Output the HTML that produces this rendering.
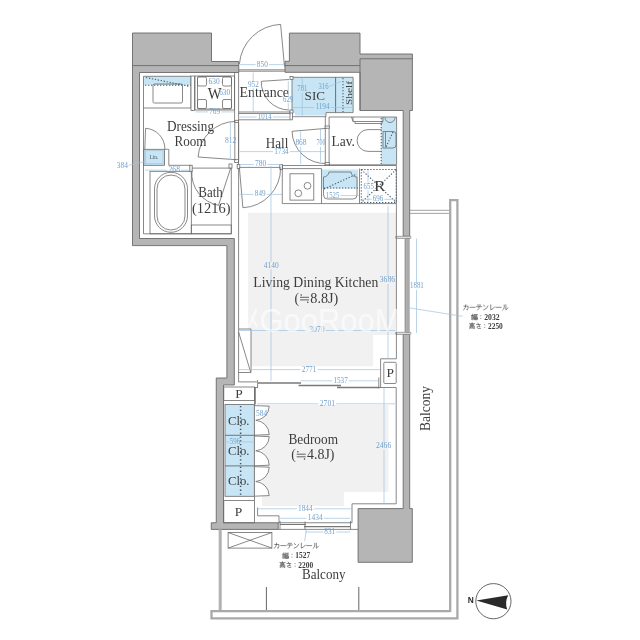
<!DOCTYPE html>
<html><head><meta charset="utf-8">
<style>
html,body{margin:0;padding:0;background:#fff;width:640px;height:640px;overflow:hidden}
svg{display:block;will-change:transform;filter:blur(0.3px)}
.w{fill:#b5b5b5;stroke:#6a6a6a;stroke-width:0.9}
.wl{stroke:#6a6a6a;stroke-width:0.9;fill:none}
.ln{stroke:#6b6b6b;stroke-width:0.8;fill:none}
.lt{stroke:#777;stroke-width:0.6;fill:none}
.lnf{stroke:#6b6b6b;stroke-width:0.8;fill:#fff}
.bl{fill:#c7e5f4}
.dm{stroke:#9fc2e0;stroke-width:0.7;fill:none}
.dt{fill:#6f9fcb;font-family:"Liberation Serif",serif;font-size:7.8px}
.lb{font-family:"Liberation Serif",serif}
.dot{stroke:#4d5d6a;stroke-width:1.1;stroke-dasharray:1.3 1.7;fill:none}
.rail{stroke:#aaa;stroke-width:2.4;fill:none}
.jp{fill:none;stroke:#444;stroke-width:0.55}
</style></head>
<body>
<svg width="640" height="640" viewBox="0 0 640 640">
<path d="M248.2 212.8H396.6V335H373V366.3H251V329H248.2Z" fill="#f1f1f1"/>
<path d="M262 405H388.5V492H343.8V506H262Z" fill="#f1f1f1"/>
<rect class="bl" x="143.5" y="76.3" width="47.5" height="8.8"/>
<path class="bl" d="M292 77.3H353.1V112.6H326V115.6H295V113H292Z"/>
<rect class="bl" x="381.2" y="117" width="15.4" height="47.8"/>
<rect class="bl" x="143.8" y="149.3" width="20.7" height="16"/>
<rect class="bl" x="225" y="404.4" width="29.4" height="91.9"/>
<path class="bl" d="M322 169.5H358V188.5H322Z"/>
<path class="w" d="M132.5 33H211.5V61.5H238.75V72.5H139.5V238.5H234.3V385H223.5V522.75H278.2V529.4H211.25V522.75H216.25V378H226.9V245.6H132.5Z"/>
<path class="wl" d="M132.5 65.6H238.75"/>
<path class="w" d="M289.4 33.1H360V54H412.4V110.5H409.7V236.3H403.2V110.5H360V72.3H285V61.25H289.4Z"/>
<path class="wl" d="M285 65.6H360M360 58.75H412.4M360 58.75V110.5"/>
<path class="w" d="M403.2 334.5H409.7V508.6H412.3V562.3H358.1V508.6H403.2Z"/>
<!-- window right LDK -->
<rect x="395.5" y="236.3" width="15.5" height="2.2" rx="1" fill="#ddd" stroke="#777" stroke-width="0.6"/>
<rect x="395.5" y="332.3" width="15.5" height="2.2" rx="1" fill="#ddd" stroke="#777" stroke-width="0.6"/>
<rect x="404.6" y="238.5" width="1.4" height="94" fill="#999"/>
<rect x="406.6" y="238.5" width="2.6" height="94" fill="#aaa" stroke="#777" stroke-width="0.4"/>
<line x1="396.4" y1="203.6" x2="396.4" y2="358.8" class="ln"/>
<path d="M409.8 210.3H449M409.8 213.4H449" stroke="#999" stroke-width="0.9" fill="none"/>
<path d="M450.2 612V200.2H457.4V618.4H211.5V611.1H450.2" stroke="#a9a9a9" stroke-width="2.3" fill="none"/>
<line x1="220.2" y1="529.4" x2="220.2" y2="610" stroke="#bbb" stroke-width="3.2"/>
<line x1="220.2" y1="529.4" x2="220.2" y2="610" stroke="#999" stroke-width="0.5" stroke-dasharray="0"/>
<line x1="266.4" y1="587" x2="266.4" y2="610" stroke="#666" stroke-width="1"/>
<line x1="358.8" y1="587" x2="358.8" y2="610" stroke="#666" stroke-width="1"/>

<path class="ln" d="M143.5 76.3V233.8H231.3V166"/>
<path class="ln" d="M143.5 76.3H191V108H143.5"/>
<rect class="ln" x="153" y="84" width="29.5" height="19" rx="1.5"/>
<path class="dot" d="M146 77.5L190 86.5M145 85.2H191"/>
<rect class="lnf" x="191" y="76" width="3.4" height="34.5"/>
<rect class="ln" x="195" y="76" width="39.4" height="34"/>
<rect class="ln" x="197.5" y="76.5" width="34" height="32.5" rx="1"/>
<rect class="ln" x="197.5" y="77" width="9" height="9" rx="1.5"/>
<rect class="ln" x="222.5" y="77" width="9" height="9" rx="1.5"/>
<rect class="ln" x="197.5" y="99.5" width="9" height="9" rx="1.5"/>
<rect class="ln" x="222.5" y="99.5" width="9" height="9" rx="1.5"/>
<path class="ln" d="M234.6 72.5V121.5M238.6 72.5V121.5"/>
<rect class="lnf" x="234.6" y="120.3" width="4" height="2.2"/>
<rect class="lnf" x="234.6" y="159.7" width="4" height="2.7"/>
<path class="ln" d="M234.8 122.5V159.7M238.6 122.5V159.7"/>
<!-- dressing door -->
<path class="ln" d="M235.9 159.7L198.1 157A38 38 0 0 1 235.5 121.4"/>
<!-- linen closet -->
<rect class="ln" x="143.8" y="149.3" width="20.7" height="16" stroke="#5f7480"/><rect x="145.3" y="150.8" width="17.7" height="13" fill="none" stroke="#9fb8c6" stroke-width="0.5"/>
<path class="ln" d="M144.8 149.3L145.6 128.3A20.5 20.5 0 0 1 164.9 148.9"/>
<!-- bath -->
<path class="ln" d="M164.5 149.3H168.8V165.3H191M192 168.1H231.3"/>
<rect class="ln" x="150" y="171.3" width="41.3" height="62.5"/>
<rect class="ln" x="154.5" y="172.3" width="33" height="60" rx="16.5"/>
<rect class="ln" x="157" y="175" width="28" height="55" rx="14"/>
<rect class="ln" x="191.3" y="225" width="40" height="8.8"/>
<rect class="lnf" x="189.8" y="165.3" width="2.4" height="6.4" fill="#ccc"/>
<rect class="lnf" x="229" y="164" width="3" height="4"/>
<!-- bath door -->
<path class="ln" d="M230.7 168L218.5 205.3M191.8 170.9A32.7 32.7 0 0 0 218.5 205.3"/>

<!-- entrance door -->
<path class="ln" d="M284.5 66.5L280.6 24.4A43 43 0 0 0 239.4 64"/>
<path class="ln" d="M238.8 69.8H285M238.8 71.2H285"/>
<!-- entrance floor lines -->
<path class="ln" d="M238.6 112H290M238.6 113.5H290M238.6 119.8H292.5"/>
<path class="ln" d="M290 110.5V119.8M292.5 112.6V119.8"/>
<path class="ln" d="M292.5 116.7H326V112.6H353.1V77.3H292"/>
<path class="ln" d="M292 77.3V113"/>
<rect class="lnf" x="290" y="76.5" width="3" height="3"/>
<rect class="lnf" x="290" y="110" width="3" height="3"/>
<path d="M335.6 77.3V112.6" stroke="#4f6878" stroke-width="0.9"/>
<path class="dot" d="M343 78V112"/>
<!-- SIC door -->
<path class="ln" d="M289 79.5L261.3 81.3A28 28 0 0 0 289 110"/>
<!-- hall -->
<path class="ln" d="M238.6 122.5V382M325.3 116.7V166M329.1 117V166"/>
<rect class="lnf" x="237.2" y="164.4" width="2.6" height="4.2" fill="#ccc"/>
<rect class="lnf" x="279.8" y="164.4" width="2.8" height="5" fill="#ccc"/>
<!-- lav door -->
<path class="ln" d="M326.9 128.3L292 131.3A33.1 33.1 0 0 0 326.9 163.5"/>
<rect class="lnf" x="325.1" y="126" width="4.2" height="2.2" fill="#ddd"/>
<rect class="lnf" x="325.1" y="162.6" width="4.2" height="2.2" fill="#ddd"/>
<!-- LDK door -->
<path class="ln" d="M239.4 167.9L242.9 207.7A39.3 39.3 0 0 0 280.6 168.3M239.4 167.4H280.6"/>
<!-- lav -->
<path class="ln" d="M329.1 117H396.6V164.8H329.1"/>
<path class="ln" d="M353 117V121.5H383V117M353 121.5L351.5 117M355 121.5V123.5H382V121.5"/>
<path class="dot" d="M381.2 118V164"/>
<path class="ln" d="M381.5 129.6H368A10.9 10.9 0 0 0 368 151.4H381.5"/>
<path class="ln" d="M383 131.5H393A3 3 0 0 1 396 134.5V145A3 3 0 0 1 393 148H383Z"/>
<path class="ln" d="M385.5 132V147.5"/>
<path class="dot" d="M393 132L386 147"/>
<path class="ln" d="M385 117.5A5 5 0 0 0 395 117.5"/>
<!-- kitchen counter -->
<path class="ln" d="M282.3 165.5V203.6H396.4V165.5H282.3M282.3 168.6H321.5"/>
<rect class="ln" x="290" y="173.8" width="23.8" height="26.3"/>
<circle class="ln" cx="307.5" cy="185.8" r="3.4"/>
<circle class="ln" cx="298.3" cy="193.3" r="3.4"/>
<path class="ln" d="M321.5 168.6V203.6M359.5 168.6V203.6"/>
<path class="ln" d="M323.5 177A6 6 0 0 0 329 172H351A6 6 0 0 0 357 177V195A4 4 0 0 1 353 199H327.5A4 4 0 0 1 323.5 195Z"/>
<path class="dot" d="M324 188H358M324 189L357 174"/>
<rect class="dot" x="361.3" y="169.5" width="35" height="33"/>
<path class="dot" d="M361.3 169.5L396.3 202.5M396.3 169.5L361.3 202.5"/>

<!-- fridge -->
<path class="ln" d="M238.6 329H251V372.5H238.6M238.6 332L250.6 372"/>
<!-- LDK bottom / sliding doors -->
<path class="ln" d="M238.6 381.9H256.9"/>
<path d="M258 382.9H301M298.5 385.6H341M337 387.4H379" stroke="#7a7a7a" stroke-width="1.5" fill="none"/>
<path class="ln" d="M257.6 380V388M378.8 377.5V388.5"/>
<!-- P box right -->
<path class="ln" d="M396.4 358.8H380.6V387.5"/>
<rect class="ln" x="383.8" y="362.3" width="12.4" height="21.2" rx="1"/>
<!-- bedroom outline -->
<path class="ln" d="M254.5 387.5H257.6M378.8 387.5H396.2V503.8H352M257.6 507.5V515.8H279V522.75M255.4 387.5V404.4"/>
<path class="ln" d="M352 503.8V522.75"/>
<!-- P boxes left -->
<rect class="ln" x="223.8" y="387" width="30.6" height="13.6"/>
<rect class="ln" x="223.8" y="500.6" width="30.6" height="22.2"/>
<path class="ln" d="M254.5 387V404.4M254.5 496.3V500.6"/>
<!-- closets -->
<rect class="ln" x="225" y="404.4" width="29.4" height="91.9"/>
<path class="wl" d="M225 435.3H254.4M225 465.9H254.4" stroke-width="1.3"/>
<path d="M240.6 406V496" stroke="#3f5566" stroke-width="1.5" stroke-dasharray="1.3 2.5" fill="none"/>
<path d="M254.4 405.6L269.2 406.20000000000005A14.5 14.5 0 0 1 255.8 420.3L254.4 420.3Z" fill="#fff" stroke="none"/><path d="M254.4 435.2L269.2 434.59999999999997A14.5 14.5 0 0 0 255.8 420.3L254.4 420.3Z" fill="#fff" stroke="none"/>
<path class="ln" d="M254.4 405.6L269.2 406.20000000000005A14.5 14.5 0 0 1 255.8 420.3M254.4 435.2L269.2 434.59999999999997A14.5 14.5 0 0 0 255.8 420.3"/>
<path d="M254.4 436L269.2 436.6A14.5 14.5 0 0 1 255.8 450.8L254.4 450.8Z" fill="#fff" stroke="none"/><path d="M254.4 465.8L269.2 465.2A14.5 14.5 0 0 0 255.8 450.8L254.4 450.8Z" fill="#fff" stroke="none"/>
<path class="ln" d="M254.4 436L269.2 436.6A14.5 14.5 0 0 1 255.8 450.8M254.4 465.8L269.2 465.2A14.5 14.5 0 0 0 255.8 450.8"/>
<path d="M254.4 466.6L269.2 467.20000000000005A14.5 14.5 0 0 1 255.8 481.5L254.4 481.5Z" fill="#fff" stroke="none"/><path d="M254.4 496.2L269.2 495.59999999999997A14.5 14.5 0 0 0 255.8 481.5L254.4 481.5Z" fill="#fff" stroke="none"/>
<path class="ln" d="M254.4 466.6L269.2 467.20000000000005A14.5 14.5 0 0 1 255.8 481.5M254.4 496.2L269.2 495.59999999999997A14.5 14.5 0 0 0 255.8 481.5"/>

<path class="ln" d="M254.4 404.4V496.3"/>
<!-- bedroom window -->
<path class="ln" d="M278.2 522.75H352.1M278.2 529.4H352.1"/>
<path d="M280 524.5H306M304 526.6H350" stroke="#777" stroke-width="1.2" fill="none"/>
<path class="ln" d="M280 521V529.4M350.5 521V529.4M305 521.5V529.4"/>
<path class="ln" d="M352.1 529.4H358.1"/>
<!-- outdoor unit -->
<rect class="ln" x="228.1" y="532.5" width="43.8" height="15.6"/>
<path class="ln" d="M228.1 532.5L271.9 548.1M271.9 532.5L228.1 548.1"/>
<text class="lb" fill="#3d3d3d" x="207.8" y="98.8" font-size="16.2" textLength="13.8" lengthAdjust="spacingAndGlyphs">W</text>
<text class="lb" fill="#3d3d3d" x="239.5" y="96.5" font-size="13.6" textLength="49.5" lengthAdjust="spacingAndGlyphs">Entrance</text>
<text class="lb" fill="#3d3d3d" x="304.6" y="99.7" font-size="12.5" textLength="20.5" lengthAdjust="spacingAndGlyphs">SIC</text>
<text class="lb" fill="#3d3d3d" x="167" y="131.3" font-size="13.6" textLength="47" lengthAdjust="spacingAndGlyphs">Dressing</text>
<text class="lb" fill="#3d3d3d" x="174.5" y="146.3" font-size="13.6" textLength="32" lengthAdjust="spacingAndGlyphs">Room</text>
<text class="lb" fill="#3d3d3d" x="265.8" y="147.5" font-size="13.6" textLength="22.6" lengthAdjust="spacingAndGlyphs">Hall</text>
<text class="lb" fill="#3d3d3d" x="331.5" y="145.8" font-size="13.6" textLength="23.5" lengthAdjust="spacingAndGlyphs">Lav.</text>
<text class="lb" fill="#3d3d3d" x="198.3" y="197" font-size="13.6" textLength="24.5" lengthAdjust="spacingAndGlyphs">Bath</text>
<text class="lb" fill="#3d3d3d" x="192" y="212.5" font-size="13.6" textLength="38.5" lengthAdjust="spacingAndGlyphs">(1216)</text>
<text class="lb" fill="#3d3d3d" x="374" y="191.3" font-size="14" textLength="11.5" lengthAdjust="spacingAndGlyphs">R</text>
<text class="lb" fill="#3d3d3d" x="253.3" y="287" font-size="13.6" textLength="125" lengthAdjust="spacingAndGlyphs">Living Dining Kitchen</text>
<text class="lb" fill="#3d3d3d" x="288.5" y="444" font-size="13.6" textLength="49.5" lengthAdjust="spacingAndGlyphs">Bedroom</text>
<text class="lb" fill="#3d3d3d" x="228" y="425" font-size="12.5" textLength="21.5" lengthAdjust="spacingAndGlyphs">Clo.</text>
<text class="lb" fill="#3d3d3d" x="228" y="455" font-size="12.5" textLength="21.5" lengthAdjust="spacingAndGlyphs">Clo.</text>
<text class="lb" fill="#3d3d3d" x="228" y="485" font-size="12.5" textLength="21.5" lengthAdjust="spacingAndGlyphs">Clo.</text>
<text class="lb" fill="#3d3d3d" x="235.2" y="398.1" font-size="11.5" textLength="7.5" lengthAdjust="spacingAndGlyphs">P</text>
<text class="lb" fill="#3d3d3d" x="234.8" y="516.3" font-size="11.5" textLength="7.5" lengthAdjust="spacingAndGlyphs">P</text>
<text class="lb" fill="#3d3d3d" x="386.6" y="376.6" font-size="11.5" textLength="7.5" lengthAdjust="spacingAndGlyphs">P</text>
<text class="lb" fill="#3d3d3d" x="302" y="579" font-size="13.6" textLength="43.5" lengthAdjust="spacingAndGlyphs">Balcony</text>
<text class="lb" fill="#3d3d3d" font-size="13.6" transform="translate(429.6 431) rotate(-90)" textLength="45" lengthAdjust="spacingAndGlyphs">Balcony</text>
<text class="lb" fill="#3d3d3d" font-size="8.5" transform="translate(351.5 105) rotate(-90)" textLength="24" lengthAdjust="spacingAndGlyphs">Shelf</text>
<text class="lb" fill="#3d3d3d" font-size="13.6" x="294.5" y="302.5">(</text>
<path d="M300.0 297.3H309.0M300.0 299.9H309.0" stroke="#3c3c3c" stroke-width="0.8"/>
<circle cx="301.2" cy="294.9" r="0.75" fill="#3c3c3c"/><circle cx="307.8" cy="302.2" r="0.75" fill="#3c3c3c"/>
<text class="lb" fill="#3d3d3d" font-size="13.6" x="310.3" y="302.5" textLength="28" lengthAdjust="spacingAndGlyphs">8.8J)</text>
<text class="lb" fill="#3d3d3d" font-size="13.6" x="291.2" y="459.4">(</text>
<path d="M296.7 454.2H305.7M296.7 456.79999999999995H305.7" stroke="#3c3c3c" stroke-width="0.8"/>
<circle cx="297.9" cy="451.79999999999995" r="0.75" fill="#3c3c3c"/><circle cx="304.5" cy="459.09999999999997" r="0.75" fill="#3c3c3c"/>
<text class="lb" fill="#3d3d3d" font-size="13.6" x="307.0" y="459.4" textLength="27.5" lengthAdjust="spacingAndGlyphs">4.8J)</text>
<path class="dm" d="M239.5 64.6H255.60000000000002M269.0 64.6H284.5"/>
<text class="dt" x="256.8" y="66.5" textLength="11" lengthAdjust="spacingAndGlyphs">850</text>
<path class="dm" d="M239.5 117H256.6M272.8 117H290"/>
<text class="dt" x="257.8" y="118.9" textLength="13.8" lengthAdjust="spacingAndGlyphs">1014</text>
<path class="dm" d="M206.5 81.9H207.4M220.79999999999998 81.9H222"/>
<text class="dt" x="208.6" y="83.80000000000001" textLength="11" lengthAdjust="spacingAndGlyphs">630</text>
<path class="dm" d="M195.5 111.9H208.0M221.39999999999998 111.9H234"/>
<text class="dt" x="209.2" y="113.80000000000001" textLength="11" lengthAdjust="spacingAndGlyphs">769</text>
<path class="dm" d="M292.5 107.5H314.2M330.79999999999995 107.5H353"/>
<text class="dt" x="315.4" y="109.4" textLength="14.2" lengthAdjust="spacingAndGlyphs">1194</text>
<path class="dm" d="M239.5 151.6H273.0M289.9 151.6H325"/>
<text class="dt" x="274.2" y="153.5" textLength="14.5" lengthAdjust="spacingAndGlyphs">1734</text>
<path class="dm" d="M239.5 164.5H253.8M267.4 164.5H281.5"/>
<text class="dt" x="255" y="166.4" textLength="11.2" lengthAdjust="spacingAndGlyphs">780</text>
<path class="dm" d="M239.5 194.4H253.60000000000002M266.8 194.4H282"/>
<text class="dt" x="254.8" y="196.3" textLength="10.8" lengthAdjust="spacingAndGlyphs">849</text>
<path class="dm" d="M145 170.2H167.3M181.2 170.2H192"/>
<text class="dt" x="168.5" y="172.1" textLength="11.5" lengthAdjust="spacingAndGlyphs">268</text>
<path class="dm" d="M322.5 195.6H324.6M340.5 195.6H359"/>
<text class="dt" x="325.8" y="197.5" textLength="13.5" lengthAdjust="spacingAndGlyphs">1525</text>
<path class="dm" d="M361.5 199.3H371.6M384.5 199.3H396"/>
<text class="dt" x="372.8" y="201.20000000000002" textLength="10.5" lengthAdjust="spacingAndGlyphs">696</text>
<path class="dm" d="M238.8 330.5H308.0M325.9 330.5H395.5"/>
<text class="dt" x="309.2" y="332.4" textLength="15.5" lengthAdjust="spacingAndGlyphs">3070</text>
<path class="dm" d="M238.8 369.6H300.5M317.7 369.6H380"/>
<text class="dt" x="301.7" y="371.5" textLength="14.8" lengthAdjust="spacingAndGlyphs">2771</text>
<path class="dm" d="M300.5 380.8H332.3M348.9 380.8H378.5"/>
<text class="dt" x="333.5" y="382.7" textLength="14.2" lengthAdjust="spacingAndGlyphs">1537</text>
<path class="dm" d="M257 403.8H318.6M336.2 403.8H395"/>
<text class="dt" x="319.8" y="405.7" textLength="15.2" lengthAdjust="spacingAndGlyphs">2701</text>
<path class="dm" d="M257.6 508.8H296.8M313.9 508.8H352"/>
<text class="dt" x="298" y="510.7" textLength="14.7" lengthAdjust="spacingAndGlyphs">1844</text>
<path class="dm" d="M280 518.3H306.6M323.8 518.3H350"/>
<text class="dt" x="307.8" y="520.1999999999999" textLength="14.8" lengthAdjust="spacingAndGlyphs">1434</text>
<path class="dm" d="M305 532H323.1M336.3 532H350"/>
<text class="dt" x="324.3" y="533.9" textLength="10.8" lengthAdjust="spacingAndGlyphs">831</text>
<path class="dm" d="M225 441.9H229.20000000000002M240.9 441.9H254.4"/>
<text class="dt" x="229.8" y="443.79999999999995" textLength="10.5" lengthAdjust="spacingAndGlyphs">596</text>
<path class="dm" d="M253.2 72.5V81.1M253.2 88.1V112"/>
<text class="dt" x="248" y="86.5" textLength="10.8" lengthAdjust="spacingAndGlyphs">952</text>
<text class="dt" x="219.2" y="94.6" textLength="11" lengthAdjust="spacingAndGlyphs">630</text>
<path class="dm" d="M302.3 77.5V86.0M302.3 93.0V115.5"/>
<text class="dt" x="297.3" y="91.4" textLength="10" lengthAdjust="spacingAndGlyphs">781</text>
<path class="dm" d="M288.3 81V96.1M288.3 103.1V110"/>
<text class="dt" x="283" y="101.5" textLength="10.2" lengthAdjust="spacingAndGlyphs">629</text>
<path class="dm" d="M230.4 122.5V137.5M230.4 144.5V160"/>
<text class="dt" x="225" y="142.9" textLength="11.3" lengthAdjust="spacingAndGlyphs">812</text>
<path class="dm" d="M300.6 131.5V139.5M300.6 146.5V164"/>
<text class="dt" x="295.4" y="144.9" textLength="11.2" lengthAdjust="spacingAndGlyphs">868</text>
<path class="dm" d="M320.5 129V139.8M320.5 146.8V162"/>
<text class="dt" x="316.5" y="145.20000000000002" textLength="9" lengthAdjust="spacingAndGlyphs">700</text>
<path class="dm" d="M368 170V183.3M368 190.3V202"/>
<text class="dt" x="363.6" y="188.70000000000002" textLength="10.2" lengthAdjust="spacingAndGlyphs">655</text>
<path class="dm" d="M271 166V262.1M271 269.1V381"/>
<text class="dt" x="263.8" y="267.5" textLength="14.8" lengthAdjust="spacingAndGlyphs">4140</text>
<path class="dm" d="M388 205.5V277.0M388 284.0V358.5"/>
<text class="dt" x="379.8" y="282.4" textLength="15.3" lengthAdjust="spacingAndGlyphs">3686</text>
<path class="dm" d="M416.5 238.5V282.8M416.5 289.8V333"/>
<text class="dt" x="410" y="288.2" textLength="13.8" lengthAdjust="spacingAndGlyphs">1881</text>
<path class="dm" d="M384 388V442.8M384 449.8V503.5"/>
<text class="dt" x="376" y="448.2" textLength="15.2" lengthAdjust="spacingAndGlyphs">2466</text>
<text class="dt" x="318.5" y="88.8" textLength="10" lengthAdjust="spacingAndGlyphs">316</text>
<path class="dm" d="M329 86.5L341 81.5"/>
<text class="dt" x="116.8" y="167.5" textLength="11.2" lengthAdjust="spacingAndGlyphs">384</text>
<path class="dm" d="M128.5 165.3L145 161.5"/>
<text class="dt" x="256" y="416.3" textLength="11.2" lengthAdjust="spacingAndGlyphs">584</text>
<path d="M1.5 3.2H8.2Q8.4 8 7 9.3L6 8.6M4.6 0.8Q4.6 6.5 1 9.5" transform="translate(463.00 304.2) scale(0.62)" fill="none" stroke="#3a3a3a" stroke-width="0.97" stroke-linecap="round"/>
<path d="M0.8 5H9.2" transform="translate(469.50 304.2) scale(0.62)" fill="none" stroke="#3a3a3a" stroke-width="0.97" stroke-linecap="round"/>
<path d="M2.5 1.4H7.6M0.8 4H9.2M5.2 4Q5.2 8 2.6 9.6" transform="translate(476.00 304.2) scale(0.62)" fill="none" stroke="#3a3a3a" stroke-width="0.97" stroke-linecap="round"/>
<path d="M1.8 1.8L4 3.4M1.8 9.2Q7.5 7.8 9 2.8" transform="translate(482.50 304.2) scale(0.62)" fill="none" stroke="#3a3a3a" stroke-width="0.97" stroke-linecap="round"/>
<path d="M2.8 1V9Q7 8 9.2 4.2" transform="translate(489.00 304.2) scale(0.62)" fill="none" stroke="#3a3a3a" stroke-width="0.97" stroke-linecap="round"/>
<path d="M0.8 5H9.2" transform="translate(495.50 304.2) scale(0.62)" fill="none" stroke="#3a3a3a" stroke-width="0.97" stroke-linecap="round"/>
<path d="M3.6 1.2V4.8Q3.6 8 1 9.6M6.2 1V9.2Q8.2 8.2 9.6 5.8" transform="translate(502.00 304.2) scale(0.62)" fill="none" stroke="#3a3a3a" stroke-width="0.97" stroke-linecap="round"/>
<path d="M0.6 3H3.8V8.4M0.6 3V9.6M2.2 0.8V10M4.6 1.5H9.6M5.2 2.8H9V4.8H5.2ZM4.8 6H9.6V9.8H4.8ZM7.2 6V9.8M4.8 7.9H9.6" transform="translate(471.40 313.6) scale(0.62)" fill="none" stroke="#3a3a3a" stroke-width="0.97" stroke-linecap="round"/>
<path d="M5 3.3V3.6M5 7.6V7.9" transform="translate(477.70 313.6) scale(0.62)" fill="none" stroke="#3a3a3a" stroke-width="0.97" stroke-linecap="round"/>
<text x="484.2" y="319.5" font-family="Liberation Serif" font-size="7.5" font-weight="bold" fill="#3d3d3d" textLength="15.4" lengthAdjust="spacingAndGlyphs">2032</text>
<path d="M5 0.3V1.6M0.8 1.8H9.2M2.8 3H7.2V4.6H2.8ZM1.4 10V5.6H8.6V10L7.6 9.6M3.4 6.8H6.6V8.8H3.4Z" transform="translate(469.00 322.6) scale(0.62)" fill="none" stroke="#3a3a3a" stroke-width="0.97" stroke-linecap="round"/>
<path d="M2 3.2H8.2M4.2 1L7.2 6.2M3 6.8Q5.4 5.4 7.2 6.6M2.8 8.4Q4.5 10.2 8.4 9.5" transform="translate(475.30 322.6) scale(0.62)" fill="none" stroke="#3a3a3a" stroke-width="0.97" stroke-linecap="round"/>
<path d="M5 3.3V3.6M5 7.6V7.9" transform="translate(481.60 322.6) scale(0.62)" fill="none" stroke="#3a3a3a" stroke-width="0.97" stroke-linecap="round"/>
<text x="488" y="328.8" font-family="Liberation Serif" font-size="7.5" font-weight="bold" fill="#3d3d3d" textLength="14.8" lengthAdjust="spacingAndGlyphs">2250</text>
<path class="dm" d="M410 308L462.5 316.3"/>
<path d="M1.5 3.2H8.2Q8.4 8 7 9.3L6 8.6M4.6 0.8Q4.6 6.5 1 9.5" transform="translate(273.80 542.5) scale(0.62)" fill="none" stroke="#3a3a3a" stroke-width="0.97" stroke-linecap="round"/>
<path d="M0.8 5H9.2" transform="translate(280.25 542.5) scale(0.62)" fill="none" stroke="#3a3a3a" stroke-width="0.97" stroke-linecap="round"/>
<path d="M2.5 1.4H7.6M0.8 4H9.2M5.2 4Q5.2 8 2.6 9.6" transform="translate(286.70 542.5) scale(0.62)" fill="none" stroke="#3a3a3a" stroke-width="0.97" stroke-linecap="round"/>
<path d="M1.8 1.8L4 3.4M1.8 9.2Q7.5 7.8 9 2.8" transform="translate(293.15 542.5) scale(0.62)" fill="none" stroke="#3a3a3a" stroke-width="0.97" stroke-linecap="round"/>
<path d="M2.8 1V9Q7 8 9.2 4.2" transform="translate(299.60 542.5) scale(0.62)" fill="none" stroke="#3a3a3a" stroke-width="0.97" stroke-linecap="round"/>
<path d="M0.8 5H9.2" transform="translate(306.05 542.5) scale(0.62)" fill="none" stroke="#3a3a3a" stroke-width="0.97" stroke-linecap="round"/>
<path d="M3.6 1.2V4.8Q3.6 8 1 9.6M6.2 1V9.2Q8.2 8.2 9.6 5.8" transform="translate(312.50 542.5) scale(0.62)" fill="none" stroke="#3a3a3a" stroke-width="0.97" stroke-linecap="round"/>
<path d="M0.6 3H3.8V8.4M0.6 3V9.6M2.2 0.8V10M4.6 1.5H9.6M5.2 2.8H9V4.8H5.2ZM4.8 6H9.6V9.8H4.8ZM7.2 6V9.8M4.8 7.9H9.6" transform="translate(282.50 552.3) scale(0.62)" fill="none" stroke="#3a3a3a" stroke-width="0.97" stroke-linecap="round"/>
<path d="M5 3.3V3.6M5 7.6V7.9" transform="translate(288.80 552.3) scale(0.62)" fill="none" stroke="#3a3a3a" stroke-width="0.97" stroke-linecap="round"/>
<text x="295.3" y="558.3" font-family="Liberation Serif" font-size="7.5" font-weight="bold" fill="#3d3d3d" textLength="14.8" lengthAdjust="spacingAndGlyphs">1527</text>
<path d="M5 0.3V1.6M0.8 1.8H9.2M2.8 3H7.2V4.6H2.8ZM1.4 10V5.6H8.6V10L7.6 9.6M3.4 6.8H6.6V8.8H3.4Z" transform="translate(279.40 561.5) scale(0.62)" fill="none" stroke="#3a3a3a" stroke-width="0.97" stroke-linecap="round"/>
<path d="M2 3.2H8.2M4.2 1L7.2 6.2M3 6.8Q5.4 5.4 7.2 6.6M2.8 8.4Q4.5 10.2 8.4 9.5" transform="translate(285.70 561.5) scale(0.62)" fill="none" stroke="#3a3a3a" stroke-width="0.97" stroke-linecap="round"/>
<path d="M5 3.3V3.6M5 7.6V7.9" transform="translate(292.00 561.5) scale(0.62)" fill="none" stroke="#3a3a3a" stroke-width="0.97" stroke-linecap="round"/>
<text x="298.3" y="567.5" font-family="Liberation Serif" font-size="7.5" font-weight="bold" fill="#3d3d3d" textLength="14.8" lengthAdjust="spacingAndGlyphs">2200</text>
<path class="dm" d="M306.3 530L304.7 541.2"/>
<text class="lb" x="149.6" y="159.2" font-size="6" fill="#4a5a66" textLength="8.8" lengthAdjust="spacingAndGlyphs">Lin.</text>
<circle cx="493.4" cy="601.2" r="17.6" fill="none" stroke="#555" stroke-width="0.9"/>
<path d="M476.4 600.4L508.2 595.2Q504.5 602.3 507.2 609.4Z" fill="#2a2a2a"/>
<text x="467.8" y="603.2" font-family="Liberation Sans" font-weight="bold" font-size="8.4" fill="#2a2a2a">N</text>
<g opacity="0.6" fill="#fff">
<text x="259.5" y="331.5" font-family="Liberation Sans" font-size="33" textLength="141" lengthAdjust="spacingAndGlyphs">GooRooM</text>
<path d="M256.5 309L249 327M251 316L257 327" stroke="#fff" stroke-width="2.2" fill="none"/>
</g>
</svg>
</body></html>
